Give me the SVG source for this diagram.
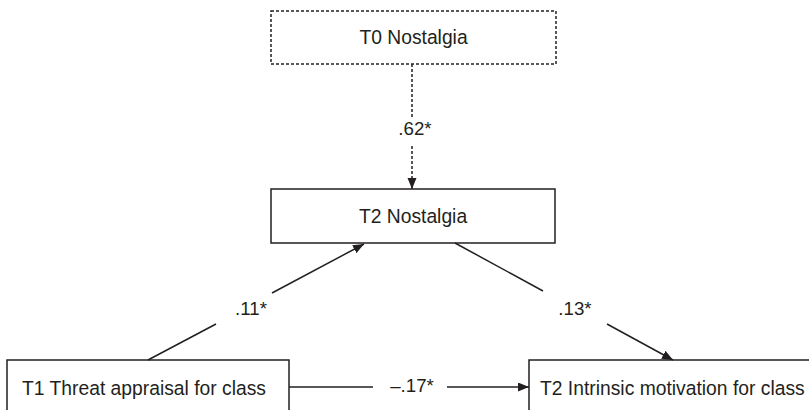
<svg xmlns="http://www.w3.org/2000/svg" width="809" height="410" viewBox="0 0 809 410">
<style>
.box{fill:#fff;stroke:#231f20;stroke-width:1.5}
.dash{stroke-dasharray:3 2}
.t{font-family:"Liberation Sans",Arial,sans-serif;font-size:19.3px;fill:#231f20}
.lbl{font-family:"Liberation Sans",Arial,sans-serif;font-size:18.7px;fill:#231f20;text-anchor:middle}
.ln{stroke:#231f20;stroke-width:1.5;fill:none}
</style>
<defs>
<marker id="ah" markerUnits="userSpaceOnUse" markerWidth="12" markerHeight="10" refX="11" refY="4.5" orient="auto">
<path d="M0,0 L11,4.5 L0,9 z" fill="#231f20"/>
</marker>
</defs>
<rect width="809" height="410" fill="#fff"/>
<g id="t0-nostalgia">
<rect class="box dash" x="271" y="11" width="285" height="53"/>
<text class="t" x="413.5" y="44" text-anchor="middle">T0 Nostalgia</text>
</g>
<g id="t2-nostalgia">
<rect class="box" x="271" y="189" width="284" height="54"/>
<text class="t" x="413" y="223" text-anchor="middle">T2 Nostalgia</text>
</g>
<g id="t1-threat">
<rect class="box" x="7" y="360" width="282" height="70"/>
<text class="t" x="22" y="395">T1 Threat appraisal for class</text>
</g>
<g id="t2-intrinsic">
<rect class="box" x="529" y="360" width="300" height="70"/>
<text class="t" x="540" y="395">T2 Intrinsic motivation for class</text>
</g>
<g id="connectors">
<line class="ln dash" x1="412" y1="64" x2="412" y2="118"/>
<line class="ln dash" x1="412" y1="146" x2="412" y2="189" marker-end="url(#ah)"/>
<text class="lbl" x="415" y="135">.62*</text>
<line class="ln" x1="148" y1="360" x2="216" y2="324"/>
<line class="ln" x1="272" y1="293" x2="364" y2="244" marker-end="url(#ah)"/>
<text class="lbl" x="251" y="315">.11*</text>
<line class="ln" x1="455" y1="243" x2="543" y2="291"/>
<line class="ln" x1="607" y1="324" x2="673" y2="360" marker-end="url(#ah)"/>
<text class="lbl" x="575" y="315">.13*</text>
<line class="ln" x1="289" y1="387" x2="373" y2="387"/>
<line class="ln" x1="447" y1="387" x2="529" y2="387" marker-end="url(#ah)"/>
<text class="lbl" x="412" y="392">–.17*</text>
</g>
</svg>
